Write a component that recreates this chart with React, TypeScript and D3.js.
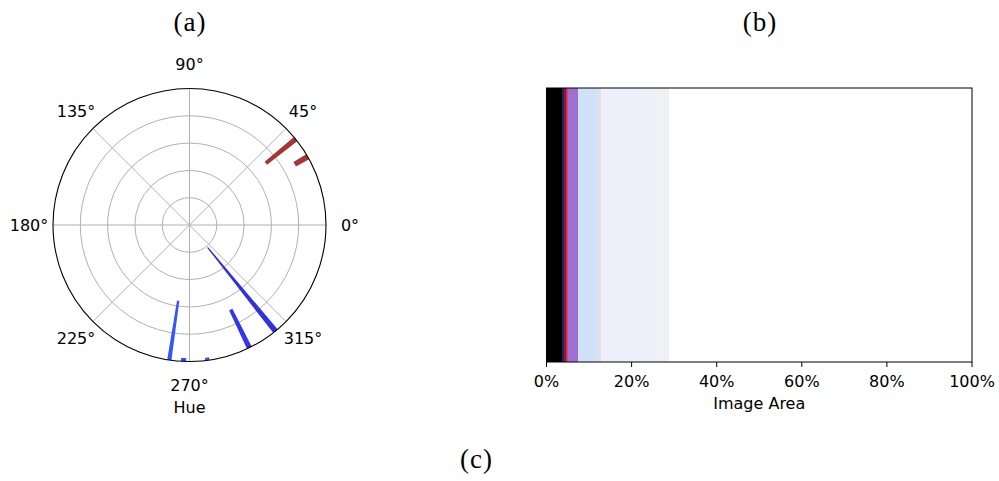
import React from "react";
import * as d3 from "d3";

// Panel (a): polar hue histogram
const hueAngles = [39, 30, 309, 296, 261.5, 267.5, 277.5]; // degrees
const hueLengths = [0.28, 0.11, 0.79, 0.31, 0.44, 0.025, 0.02]; // fraction of radius, measured inward from rim
const hueWidths = [2.2, 2.4, 2.4, 2.2, 1.8, 2.2, 1.8]; // degrees
const hueColors = ["#a83434", "#a83434", "#3131e0", "#3535ec", "#3456fb", "#3a52f5", "#3a5cf5"];
const angleTicks = [0, 45, 90, 135, 180, 225, 270, 315];
const ringTicks = [0.2, 0.4, 0.6, 0.8, 1.0];

// Panel (b): stacked colour strip of image area
const areaShares = [3.57, 0.61, 0.33, 0.38, 0.23, 2.2, 4.65, 0.94, 12.16, 3.76];
const areaColors = ["#000000", "#22225e", "#8e1b2c", "#e0223a", "#c84a8e", "#a070d0", "#d0e1f8", "#e2e2e6", "#eeeffb", "#eef2f6"];
const xTicks = [0, 20, 40, 60, 80, 100];

const W = 999;
const H = 481;

export default function App() {
  const cx = 189.5;
  const cy = 225;
  const R = 136.5;
  const rScale = d3.scaleLinear().domain([0, 1]).range([0, R]);
  const toRad = (deg: number) => (deg * Math.PI) / 180;
  const arc = d3.arc<any>();

  // panel b
  const x0 = 546.5;
  const x1 = 972;
  const yTop = 88;
  const yBot = 362;
  const xScale = d3.scaleLinear().domain([0, 100]).range([x0, x1]);
  const cum = [0, ...Array.from(d3.cumsum(areaShares))];

  const sans = "DejaVu Sans";
  const serif = "Liberation Serif";

  return (
    <svg width={W} height={H} style={{ position: "absolute", left: 0, top: 0, background: "#fff" }}>
      <rect width={W} height={H} fill="#fff" />
      {/* Panel titles */}
      <text x={190} y={31} textAnchor="middle" fontFamily={serif} fontSize={27} letterSpacing={1}>(a)</text>
      <text x={760} y={31} textAnchor="middle" fontFamily={serif} fontSize={27} letterSpacing={1}>(b)</text>
      <text x={476.5} y={468} textAnchor="middle" fontFamily={serif} fontSize={27} letterSpacing={1}>(c)</text>

      {/* Polar plot */}
      <g transform={`translate(${cx},${cy})`}>
        <circle r={R} fill="#fff" />
        {ringTicks.slice(0, -1).map((t) => (
          <circle key={t} r={rScale(t)} fill="none" stroke="#b0b0b0" strokeWidth={1} />
        ))}
        {angleTicks.map((a) => (
          <line
            key={a}
            x1={0}
            y1={0}
            x2={rScale(1) * Math.cos(toRad(a))}
            y2={-rScale(1) * Math.sin(toRad(a))}
            stroke="#b0b0b0"
            strokeWidth={1}
          />
        ))}
        {hueAngles.map((a, i) => {
          const center = Math.PI / 2 - toRad(a);
          const hw = toRad(hueWidths[i]) / 2;
          const d = arc({
            innerRadius: rScale(1 - hueLengths[i]),
            outerRadius: rScale(1),
            startAngle: center - hw,
            endAngle: center + hw,
          });
          return <path key={i} d={d || ""} fill={hueColors[i]} />;
        })}
        <circle r={R} fill="none" stroke="#000" strokeWidth={1.1} />
        {angleTicks.map((a) => (
          <text
            key={a}
            x={160.5 * Math.cos(toRad(a))}
            y={-160.5 * Math.sin(toRad(a))}
            textAnchor="middle"
            dominantBaseline="central"
            fontFamily={sans}
            fontSize={16}
          >
            {`${a}°`}
          </text>
        ))}
      </g>
      <text x={cx} y={413} textAnchor="middle" fontFamily={sans} fontSize={16}>Hue</text>

      {/* Colour strip */}
      {areaShares.map((s, i) => (
        <rect
          key={i}
          x={xScale(cum[i])}
          y={yTop}
          width={xScale(cum[i + 1]) - xScale(cum[i])}
          height={yBot - yTop}
          fill={areaColors[i]}
          shapeRendering="crispEdges"
        />
      ))}
      <rect x={x0} y={yTop} width={x1 - x0} height={yBot - yTop} fill="none" stroke="#000" strokeWidth={1} />
      {xTicks.map((t) => (
        <g key={t} transform={`translate(${xScale(t)},${yBot})`}>
          <line y1={0} y2={5} stroke="#000" strokeWidth={1} />
          <text y={25} textAnchor="middle" fontFamily={sans} fontSize={16}>{`${t}%`}</text>
        </g>
      ))}
      <text x={(x0 + x1) / 2} y={409} textAnchor="middle" fontFamily={sans} fontSize={16}>Image Area</text>
    </svg>
  );
}
